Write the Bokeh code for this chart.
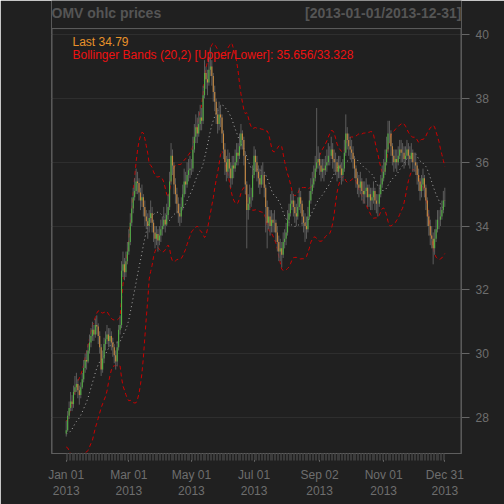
import numpy as np
import pandas as pd
from bokeh.plotting import figure
from bokeh.models import ColumnDataSource, FixedTicker, Label
from bokeh.embed import file_html
from bokeh.resources import INLINE

chart_title = "OMV ohlc prices"
date_span = "[2013-01-01/2013-12-31]"
last_text = "Last 34.79"
bb_text = "Bollinger Bands (20,2) [Upper/Lower]: 35.656/33.328"

tick_dates = ["2013-01-01", "2013-03-01", "2013-05-01", "2013-07-01",
              "2013-09-02", "2013-11-01", "2013-12-31"]
tick_labels = ["Jan 01\n2013", "Mar 01\n2013", "May 01\n2013", "Jul 01\n2013",
               "Sep 02\n2013", "Nov 01\n2013", "Dec 31\n2013"]
price_ticks = [28, 30, 32, 34, 36, 38, 40]

# late 2012 closes, only needed to start the 20 day bands
close_2012 = [27.9, 27.7, 27.5, 27.2, 27.1, 27.3, 27.6, 27.8, 27.5, 27.3,
              27.2, 27.4, 27.6, 27.7, 27.5, 27.3, 27.4, 27.6, 27.5]

close_2013 = [
    # jan
    27.60, 28.05, 28.30, 28.50, 28.42, 28.80, 28.95, 29.05, 28.85, 28.70, 28.95, 29.20,
    29.55, 29.80, 29.75, 30.10, 30.35, 30.55, 30.75, 30.60, 30.90, 30.85, 30.55,
    # feb
    30.20, 29.50, 29.85, 30.30, 30.45, 30.60, 30.40, 30.55, 30.35, 30.20, 29.95, 29.75,
    30.20, 30.75, 30.90, 32.60, 32.80, 32.55, 32.90, 33.20,
    # mar
    33.50, 34.10, 34.55, 34.90, 35.10, 35.40, 35.35, 35.05, 34.80, 34.90, 34.60, 34.30,
    34.15, 34.00, 34.25, 34.40, 34.10, 33.80, 33.60, 33.75, 33.55,
    # apr
    33.70, 33.90, 34.00, 34.20, 34.05, 34.35, 34.60, 35.40, 36.20, 35.90, 35.30, 35.00,
    34.70, 34.40, 34.30, 34.60, 35.00, 35.40, 35.30, 35.60, 35.75, 35.80,
    # may
    35.80, 36.40, 36.80, 37.10, 36.90, 37.20, 37.40, 37.30, 38.10, 38.80, 38.60, 38.50,
    38.90, 39.00, 38.70, 38.20, 37.90, 37.50, 37.20, 37.50, 37.40, 36.90, 36.40,
    # jun
    36.00, 35.70, 36.10, 35.80, 35.50, 35.90, 35.80, 36.00, 36.30, 36.20, 36.50, 36.90,
    36.70, 36.20, 35.30, 34.50, 34.70, 34.90, 34.90, 35.60,
    # jul
    36.20, 36.00, 35.70, 35.50, 35.30, 35.60, 35.60, 35.20, 34.60, 34.10, 34.30, 34.00,
    34.20, 34.10, 34.10, 33.80, 33.50, 33.20, 33.30, 33.10, 33.50, 33.60, 33.80,
    # aug
    34.20, 34.40, 34.70, 34.80, 34.60, 34.40, 34.30, 34.60, 34.90, 34.70, 34.30, 34.10,
    34.00, 33.90, 34.30, 34.80, 35.10, 35.30, 35.50, 35.80, 36.00, 36.10,
    # sep
    35.90, 35.70, 35.80, 35.75, 35.90, 36.00, 36.20, 36.20, 36.40, 36.10, 36.00, 36.00,
    35.70, 35.90, 35.80, 35.60, 35.80, 36.30, 36.90, 36.70, 36.50,
    # oct
    36.40, 36.30, 36.10, 35.80, 35.50, 35.30, 35.20, 35.40, 35.10, 35.00, 35.10, 35.20,
    34.90, 35.00, 34.80, 34.90, 35.10, 34.80, 34.70, 34.70, 35.00, 35.30, 35.50,
    # nov
    35.70, 36.00, 36.40, 36.90, 36.90, 36.50, 36.20, 36.00, 36.10, 36.00, 36.20, 36.40,
    36.30, 36.30, 36.10, 36.20, 36.40, 36.20, 36.10, 36.30, 36.00,
    # dec
    36.00, 35.90, 35.60, 35.40, 35.10, 35.30, 35.50, 35.20, 34.80, 34.30, 34.00, 33.70,
    33.60, 33.30, 33.60, 33.90, 34.20, 34.20, 34.30, 34.50, 34.80, 34.79,
]

high_2013 = [
    27.90, 28.20, 28.50, 28.80, 28.70, 29.00, 29.30, 29.40, 29.20, 29.00, 29.10, 29.40,
    29.80, 30.00, 30.10, 30.30, 30.60, 30.80, 31.00, 30.90, 31.10, 31.20, 30.95,
    30.70, 30.30, 30.10, 30.50, 30.70, 30.90, 30.80, 30.80, 30.70, 30.50, 30.30, 30.10,
    30.40, 30.90, 31.20, 32.90, 33.20, 33.00, 33.20, 33.50,
    33.90, 34.40, 34.90, 35.20, 35.50, 35.80, 35.70, 35.50, 35.20, 35.30, 35.00, 34.80,
    34.50, 34.40, 34.50, 34.80, 34.60, 34.20, 34.00, 34.00, 33.90,
    34.00, 34.20, 34.30, 34.60, 34.40, 34.70, 35.00, 35.70, 36.60, 36.40, 36.00, 35.50,
    35.20, 34.90, 34.70, 34.90, 35.30, 35.80, 35.70, 36.00, 36.10, 36.20,
    36.10, 36.80, 37.20, 37.50, 37.40, 37.60, 37.80, 37.70, 38.40, 39.20, 39.00, 38.90,
    39.30, 39.60, 39.20, 38.80, 38.40, 38.00, 37.70, 37.90, 37.80, 37.50, 37.00,
    36.60, 36.20, 36.40, 36.30, 36.00, 36.20, 36.20, 36.40, 36.60, 36.60, 36.90, 37.20,
    37.00, 36.80, 36.30, 35.40, 35.00, 35.30, 35.20, 35.90,
    36.50, 36.40, 36.20, 35.90, 35.80, 35.90, 36.00, 35.70, 35.30, 34.80, 34.60, 34.50,
    34.50, 34.40, 34.50, 34.20, 34.00, 33.70, 33.60, 33.50, 33.80, 33.90, 34.10,
    34.50, 34.70, 35.00, 35.10, 35.00, 34.80, 34.70, 34.90, 35.20, 35.10, 34.80, 34.50,
    34.40, 34.30, 34.60, 35.10, 35.50, 35.70, 35.90, 36.20, 37.70, 36.50,
    36.30, 36.10, 36.10, 36.10, 36.20, 36.40, 36.60, 36.50, 36.80, 36.60, 36.40, 36.30,
    36.10, 36.20, 36.20, 36.00, 36.10, 36.70, 37.50, 37.10, 36.90,
    36.80, 36.70, 36.50, 36.20, 35.90, 35.70, 35.60, 35.70, 35.50, 35.40, 35.40, 35.50,
    35.30, 35.30, 35.20, 35.20, 35.40, 35.20, 35.00, 35.00, 35.30, 35.60, 35.90,
    36.10, 36.40, 36.80, 37.30, 37.30, 37.00, 36.60, 36.40, 36.40, 36.40, 36.50, 36.70,
    36.70, 36.60, 36.50, 36.50, 36.70, 36.60, 36.50, 36.60, 36.40,
    36.30, 36.30, 36.00, 35.80, 35.50, 35.60, 35.80, 35.60, 35.30, 34.90, 34.50, 34.20,
    34.00, 33.80, 33.90, 34.20, 34.50, 34.50, 34.60, 34.80, 35.10, 35.20,
]

low_2013 = [
    27.40, 27.55, 27.95, 28.20, 28.20, 28.30, 28.70, 28.80, 28.60, 28.40, 28.60, 28.90,
    29.10, 29.40, 29.50, 29.70, 30.00, 30.20, 30.40, 30.40, 30.50, 30.60, 30.30,
    30.00, 29.30, 29.40, 29.70, 30.10, 30.30, 30.20, 30.20, 30.10, 29.90, 29.70, 29.50,
    29.60, 30.10, 30.60, 30.80, 32.40, 32.30, 32.40, 32.80,
    33.10, 33.40, 34.00, 34.40, 34.80, 35.00, 35.00, 34.80, 34.50, 34.60, 34.30, 34.00,
    33.90, 33.60, 33.80, 34.10, 33.80, 33.50, 33.30, 33.40, 33.20,
    33.40, 33.50, 33.70, 33.90, 33.80, 34.00, 34.20, 34.50, 35.30, 35.60, 35.00, 34.70,
    34.40, 34.10, 34.00, 34.10, 34.50, 34.90, 35.00, 35.20, 35.40, 35.50,
    35.60, 35.70, 36.30, 36.60, 36.60, 36.80, 37.00, 37.00, 37.20, 38.00, 38.30, 38.10,
    38.40, 38.70, 38.40, 37.90, 37.60, 37.20, 36.90, 37.00, 37.10, 36.60, 36.10,
    35.60, 35.40, 35.50, 35.50, 35.20, 35.30, 35.50, 35.70, 35.90, 35.90, 36.10, 36.40,
    36.40, 35.90, 35.00, 33.30, 34.20, 34.50, 34.60, 34.80,
    35.50, 35.70, 35.40, 35.20, 35.00, 35.20, 35.30, 34.90, 33.80, 33.30, 33.90, 33.70,
    33.80, 33.80, 33.80, 33.50, 33.20, 32.90, 32.90, 32.70, 33.00, 33.30, 33.40,
    33.70, 34.00, 34.30, 34.50, 34.30, 34.10, 34.00, 34.20, 34.50, 34.40, 34.00, 33.80,
    33.50, 33.60, 33.80, 34.20, 34.70, 35.00, 35.20, 35.40, 35.70, 35.80,
    35.60, 35.40, 35.50, 35.40, 35.60, 35.70, 35.90, 35.90, 36.10, 35.80, 35.70, 35.60,
    35.40, 35.50, 35.50, 35.30, 35.40, 35.70, 36.20, 36.40, 36.20,
    36.10, 36.00, 35.80, 35.50, 35.20, 35.00, 34.90, 35.00, 34.80, 34.70, 34.70, 34.90,
    34.60, 34.60, 34.50, 34.50, 34.70, 34.50, 34.40, 34.30, 34.60, 34.90, 35.20,
    35.40, 35.60, 35.90, 36.30, 36.60, 36.20, 35.90, 35.70, 35.80, 35.70, 35.90, 36.10,
    36.00, 36.00, 35.80, 35.90, 36.10, 35.90, 35.80, 36.00, 35.70,
    35.70, 35.60, 35.30, 35.10, 34.80, 34.90, 35.10, 34.90, 34.50, 34.00, 33.70, 33.40,
    33.30, 32.80, 33.10, 33.50, 33.80, 33.90, 34.00, 34.20, 34.40, 34.60,
]

BG = "#202020"
UP_COL = "#52b043"
DN_COL = "#c8883f"
BOX_COL = "#5e5e5e"

dates = pd.bdate_range("2013-01-01", "2013-12-31")
idx = np.arange(len(dates))
opens = [close_2012[-1]] + close_2013[:-1]

df = pd.DataFrame({"x": idx, "open": opens, "close": close_2013,
                   "high": high_2013, "low": low_2013})
df["top"] = df[["open", "close"]].max(axis=1)
df["bottom"] = df[["open", "close"]].min(axis=1)
df["color"] = np.where(df["close"] >= df["open"], UP_COL, DN_COL)

# bollinger bands (20,2)
allc = pd.Series(close_2012 + close_2013)
mid = allc.rolling(20).mean()
sd = allc.rolling(20).std(ddof=0)
n0 = len(close_2012)
df["bb_mid"] = mid.iloc[n0:].values
df["bb_up"] = (mid + 2 * sd).iloc[n0:].values
df["bb_dn"] = (mid - 2 * sd).iloc[n0:].values
src = ColumnDataSource(df)

# frame runs up to the top edge so the header texts sit inside it;
# the price box itself ends at Y_BOX_TOP
X0, X1 = -10.1, 271.46
Y0, Y1 = 26.87, 41.07
Y_BOX_TOP = 40.19
FW, FH = 410, 453

p = figure(width=504, height=504, x_range=(X0, X1), y_range=(Y0, Y1),
           y_axis_location="right", output_backend="svg", toolbar_location=None,
           background_fill_color=BG, border_fill_color=BG, title=None,
           min_border_left=51, min_border_right=43, min_border_top=0, min_border_bottom=51)
p.outline_line_color = None

p.ygrid.grid_line_color = "#2e2e2e"
p.ygrid.ticker = FixedTicker(ticks=price_ticks)
p.xgrid.grid_line_color = None

p.line("x", "bb_up", source=src, color="#cc0000", line_width=1, line_dash="4 3")
p.line("x", "bb_dn", source=src, color="#cc0000", line_width=1, line_dash="4 3")
p.line("x", "bb_mid", source=src, color="#aaaaaa", line_width=1, line_dash="1 3")

p.segment(x0="x", y0="low", x1="x", y1="high", source=src, color="#5c5c5c", line_width=1)
p.segment(x0="x", y0="bottom", x1="x", y1="top", source=src, color="color", line_width=1.1)

# price box (top, left, right sides; bottom is the x axis line)
dx = 0.35
p.line([X0 + dx, X0 + dx, X1 - dx, X1 - dx], [Y0, Y_BOX_TOP, Y_BOX_TOP, Y0],
       color=BOX_COL, line_width=1)

tick_pos = [int(dates.get_loc(pd.Timestamp(d))) for d in tick_dates]
p.xaxis.ticker = FixedTicker(ticks=tick_pos, minor_ticks=list(idx))
p.xaxis.major_label_overrides = {pos: lab for pos, lab in zip(tick_pos, tick_labels)}
p.xaxis.axis_line_color = BOX_COL
p.xaxis.major_tick_line_color = "#888888"
p.xaxis.major_tick_in = 0
p.xaxis.major_tick_out = 8
p.xaxis.minor_tick_line_color = "#3c3c3c"
p.xaxis.minor_tick_in = 0
p.xaxis.minor_tick_out = 7
p.xaxis.major_label_standoff = 6

p.yaxis.ticker = FixedTicker(ticks=price_ticks)
p.yaxis.axis_line_color = None
p.yaxis.major_tick_line_color = "#666666"
p.yaxis.major_tick_in = 0
p.yaxis.major_tick_out = 8
p.yaxis.minor_tick_line_color = None
p.yaxis.major_label_standoff = 6

for ax in (p.xaxis[0], p.yaxis[0]):
    ax.major_label_text_color = "#6e6e6e"
    ax.major_label_text_font = "Liberation Sans"
    ax.major_label_text_font_size = "12px"

p.add_layout(Label(x=0, y=FH - 20, x_units="screen", y_units="screen", text=chart_title,
                   text_color="#555555", text_font="Liberation Sans", text_font_size="14px",
                   text_font_style="bold"))
p.add_layout(Label(x=FW, y=FH - 20, x_units="screen", y_units="screen", text=date_span,
                   text_color="#555555", text_font="Liberation Sans", text_font_size="14px",
                   text_font_style="bold", text_align="right"))
p.add_layout(Label(x=21, y=FH - 48, x_units="screen", y_units="screen", text=last_text,
                   text_color="#e8922a", text_font="Liberation Sans", text_font_size="12px"))
p.add_layout(Label(x=21, y=FH - 61.5, x_units="screen", y_units="screen", text=bb_text,
                   text_color="#ee1111", text_font="Liberation Sans", text_font_size="12px"))

open("out.html", "w").write(file_html(p, INLINE))
